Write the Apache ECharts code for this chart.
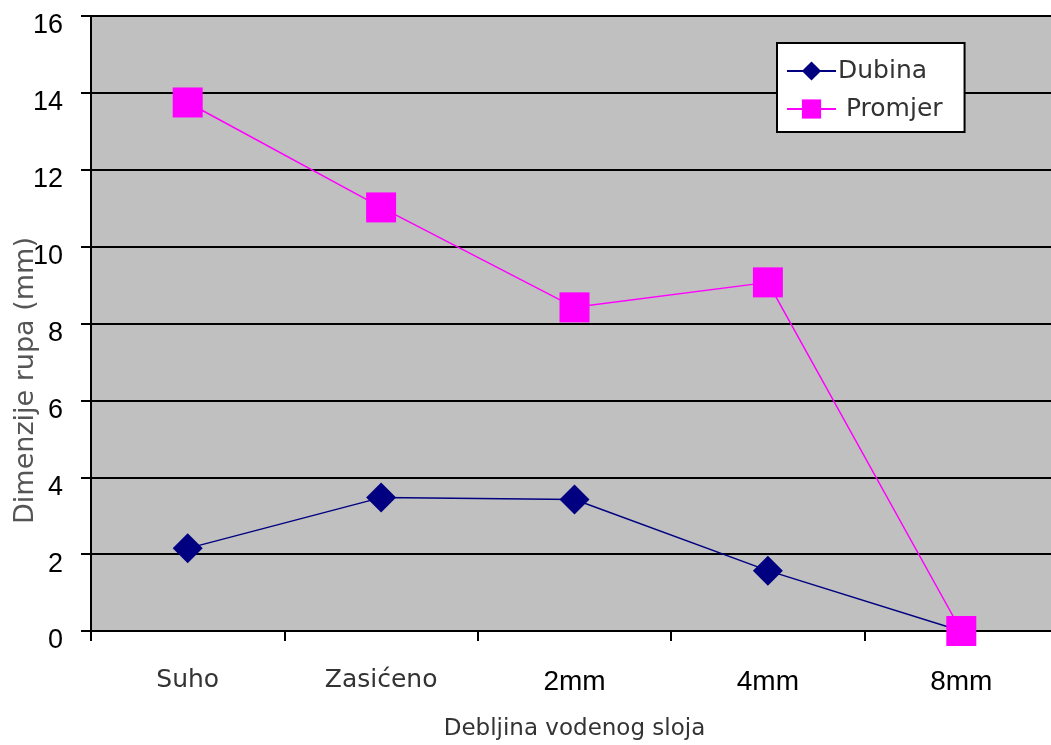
<!DOCTYPE html>
<html><head><meta charset="utf-8">
<script src="https://cdn.jsdelivr.net/npm/echarts@6/dist/echarts.min.js"></script>
<style>html,body{margin:0;padding:0;background:#fff}#c{width:1051px;height:745px}</style>
</head><body><div id="c"></div>
<script>
const categories = ['Suho', 'Zasićeno', '2mm', '4mm', '8mm'];
const dubina = [2.15, 3.47, 3.42, 1.57, 0];
const promjer = [13.75, 11.02, 8.42, 9.07, 0];
const yTicks = [0, 2, 4, 6, 8, 10, 12, 14, 16];

const chart = echarts.init(document.getElementById('c'), null, {renderer: 'canvas'});
chart.setOption({
  animation: false,
  backgroundColor: '#ffffff',
  grid: {left: 91, right: -7, top: 16, bottom: 114, containLabel: false, outerBoundsMode: 'none',
    show: true, backgroundColor: '#c0c0c0', borderColor: '#8a8a8a', borderWidth: 1},
  legend: {
    orient: 'vertical', left: 777, top: 43,
    backgroundColor: '#ffffff', borderColor: '#000', borderWidth: 2,
    padding: [14, 22, 9, 9], itemGap: 10, itemWidth: 49, itemHeight: 24,
    textStyle: {fontFamily: 'DejaVu Sans', fontSize: 25, color: '#333', lineHeight: 28, padding: [0, 0, 0, -3]},
    formatter: function (n) { return n === 'Promjer' ? ' ' + n : n; },
    data: ['Dubina', 'Promjer']
  },
  xAxis: {
    type: 'category', data: categories, boundaryGap: true,
    name: 'Debljina vodenog sloja', nameLocation: 'middle', nameGap: 87, nameMoveOverlap: false,
    nameTextStyle: {fontFamily: 'DejaVu Sans', fontSize: 23, color: '#333'},
    axisLine: {lineStyle: {color: '#000', width: 2}},
    axisTick: {show: true, length: 10, lineStyle: {color: '#000', width: 2}},
    axisLabel: {
      margin: 37, fontSize: 25,
      formatter: function (v) { return /mm$/.test(v) ? '{m|' + v + '}' : '{w|' + v + '}'; },
      rich: {
        w: {fontFamily: 'DejaVu Sans', fontSize: 25, color: '#333'},
        m: {fontFamily: 'Liberation Sans', fontSize: 28, color: '#000'}
      }
    }
  },
  yAxis: {
    type: 'value', min: 0, max: 16, interval: 2,
    name: 'Dimenzije rupa (mm)', nameLocation: 'middle', nameGap: 52, nameRotate: 90, nameMoveOverlap: false,
    nameTextStyle: {fontFamily: 'DejaVu Sans', fontSize: 27, color: '#555', padding: [0, 114, 0, 0]},
    axisLine: {show: true, lineStyle: {color: '#000', width: 2}},
    axisTick: {show: true, length: 10, lineStyle: {color: '#000', width: 2}},
    axisLabel: {margin: 28, fontFamily: 'Liberation Sans', fontSize: 27, color: '#000',
      verticalAlign: 'top', lineHeight: 20,
      formatter: function (v) { return yTicks.indexOf(v) >= 0 ? String(v) : ''; }},
    splitLine: {show: true, lineStyle: {color: '#000', width: 2}}
  },
  series: [
    {name: 'Dubina', type: 'line', data: dubina, clip: false,
      symbol: 'diamond', symbolSize: 30,
      lineStyle: {color: '#000080', width: 1.5}, itemStyle: {color: '#000080'}},
    {name: 'Promjer', type: 'line', data: promjer, clip: false,
      symbol: 'rect', symbolSize: 30,
      lineStyle: {color: '#ff00ff', width: 1.5}, itemStyle: {color: '#ff00ff'}}
  ]
});
</script></body></html>
